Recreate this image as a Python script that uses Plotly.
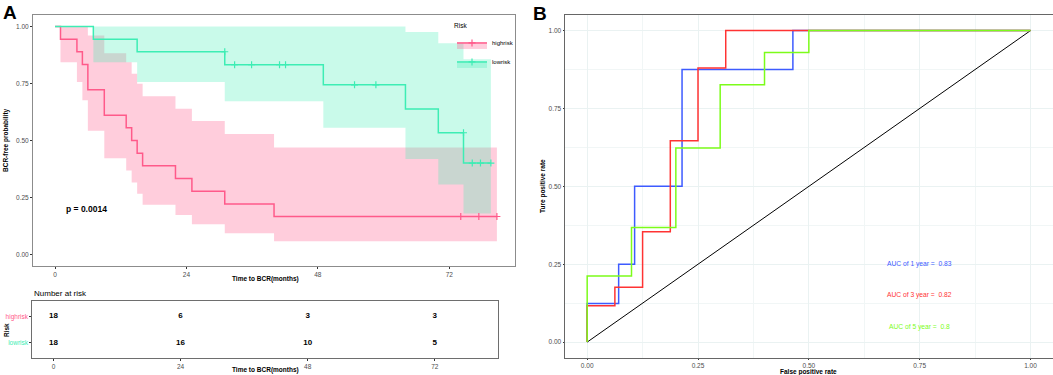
import numpy as np
import plotly.graph_objects as go

# ---------------- data ----------------
# Kaplan-Meier, high risk group
hr_time = [0, 1, 4, 5, 6, 9, 13, 14, 15, 16, 22, 25, 31, 40, 80.7]
hr_surv = [1.0, 0.944, 0.889, 0.833, 0.722, 0.611, 0.556, 0.5, 0.444, 0.389, 0.333, 0.278, 0.222, 0.167, 0.167]
hr_band_time = [1, 4, 5, 6, 9, 13, 14, 15, 16, 22, 25, 31, 40, 80.7]
hr_lower = [0.843, 0.756, 0.676, 0.543, 0.422, 0.368, 0.316, 0.267, 0.218, 0.174, 0.133, 0.094, 0.059, 0.059]
hr_upper = [1.0, 1.0, 1.0, 0.96, 0.882, 0.843, 0.793, 0.749, 0.694, 0.639, 0.585, 0.528, 0.469, 0.469]
hr_censor = [74.1, 77.4, 80.7]

# Kaplan-Meier, low risk group
lr_time = [0, 7, 15, 31, 49, 64, 70, 74.6, 79.6]
lr_surv = [1.0, 0.944, 0.889, 0.832, 0.744, 0.638, 0.534, 0.401, 0.401]
lr_band_time = [7, 15, 31, 49, 64, 70, 74.6, 79.6]
lr_lower = [0.843, 0.756, 0.672, 0.556, 0.419, 0.307, 0.18, 0.18]
lr_upper = [1.0, 1.0, 1.0, 1.0, 0.976, 0.926, 0.856, 0.856]
lr_censor = [31, 32.8, 35.9, 41, 42.1, 54.7, 58.6, 74.6, 76.2, 77.7, 79.6]

p_text = "p = 0.0014"

# Number at risk table
risk_times = [0, 24, 48, 72]
risk_groups = ["highrisk", "lowrisk"]
hr_risk = [18, 6, 3, 3]
lr_risk = [18, 16, 10, 5]

# ROC curves (fpr, tpr step points)
roc1_fpr = [0, 0, 0.071, 0.107, 0.214, 0.464, 1.0]
roc1_tpr = [0, 0.124, 0.25, 0.5, 0.875, 1.0, 1.0]
roc3_fpr = [0, 0, 0.0625, 0.125, 0.1875, 0.25, 0.3125, 1.0]
roc3_tpr = [0, 0.117, 0.176, 0.354, 0.646, 0.880, 1.0, 1.0]
roc5_fpr = [0, 0, 0.1, 0.2, 0.3, 0.4, 0.5, 1.0]
roc5_tpr = [0, 0.212, 0.368, 0.623, 0.826, 0.930, 1.0, 1.0]
auc_labels = ["AUC of 1 year =  0.83", "AUC of 3 year =  0.82", "AUC of 5 year =  0.8"]

km_ticks = [0, 24, 48, 72]
prob_ticks = [0, 0.25, 0.5, 0.75, 1.0]

# ---------------- styling ----------------
FONT = "Liberation Sans, Arial, sans-serif"
W, H = 1053, 375
HR_COL = "#FF5A8A"
LR_COL = "#3DEDB4"
HR_FILL = "rgba(255,90,138,0.30)"
LR_FILL = "rgba(61,237,180,0.28)"
ROC_COLS = ["#3D5BFF", "#FF3333", "#7CFC1A"]
TICKFONT = dict(family=FONT, size=6.5, color="#4D4D4D")


def fx(px):
    return px / W


def fy(py):
    return 1 - py / H


def value_before(times, surv, t):
    i = int(np.searchsorted(times, t, side="left")) - 1
    return surv[max(i, 0)]


fig = go.Figure()

# confidence bands
fig.add_trace(go.Scatter(x=hr_band_time, y=hr_lower, mode="lines", line=dict(width=0, shape="hv"),
                         showlegend=False, hoverinfo="skip", xaxis="x", yaxis="y"))
fig.add_trace(go.Scatter(x=hr_band_time, y=hr_upper, mode="lines", line=dict(width=0, shape="hv"),
                         fill="tonexty", fillcolor=HR_FILL, showlegend=False, hoverinfo="skip",
                         xaxis="x", yaxis="y"))
fig.add_trace(go.Scatter(x=lr_band_time, y=lr_lower, mode="lines", line=dict(width=0, shape="hv"),
                         showlegend=False, hoverinfo="skip", xaxis="x", yaxis="y"))
fig.add_trace(go.Scatter(x=lr_band_time, y=lr_upper, mode="lines", line=dict(width=0, shape="hv"),
                         fill="tonexty", fillcolor=LR_FILL, showlegend=False, hoverinfo="skip",
                         xaxis="x", yaxis="y"))

# survival curves
fig.add_trace(go.Scatter(x=hr_time, y=hr_surv, mode="lines", line=dict(color=HR_COL, width=1.5, shape="hv"),
                         showlegend=False, xaxis="x", yaxis="y"))
fig.add_trace(go.Scatter(x=lr_time, y=lr_surv, mode="lines", line=dict(color=LR_COL, width=1.5, shape="hv"),
                         showlegend=False, xaxis="x", yaxis="y"))

# censor marks
fig.add_trace(go.Scatter(x=hr_censor, y=[value_before(hr_time, hr_surv, c) for c in hr_censor],
                         mode="markers", marker=dict(symbol="cross-thin", size=5, line=dict(color=HR_COL, width=1.2)),
                         showlegend=False, xaxis="x", yaxis="y"))
fig.add_trace(go.Scatter(x=lr_censor, y=[value_before(lr_time, lr_surv, c) for c in lr_censor],
                         mode="markers", marker=dict(symbol="cross-thin", size=5, line=dict(color=LR_COL, width=1.2)),
                         showlegend=False, xaxis="x", yaxis="y"))

# legend entries
for name, col, fillc in [("highrisk", HR_COL, HR_FILL), ("lowrisk", LR_COL, LR_FILL)]:
    fig.add_trace(go.Scatter(x=[None], y=[None], name=name, mode="lines+markers", fill="toself",
                             fillcolor=fillc, line=dict(color=col, width=1.5),
                             marker=dict(symbol="cross-thin", size=5, line=dict(color=col, width=1.2)),
                             xaxis="x", yaxis="y"))

# risk table numbers
fig.add_trace(go.Scatter(x=risk_times, y=[risk_groups[0]] * len(risk_times), text=hr_risk, mode="text",
                         texttemplate="<b>%{text}</b>", textfont=dict(family=FONT, size=8, color="black"),
                         showlegend=False, xaxis="x2", yaxis="y2"))
fig.add_trace(go.Scatter(x=risk_times, y=[risk_groups[1]] * len(risk_times), text=lr_risk, mode="text",
                         texttemplate="<b>%{text}</b>", textfont=dict(family=FONT, size=8, color="black"),
                         showlegend=False, xaxis="x2", yaxis="y2"))

# ROC
fig.add_trace(go.Scatter(x=[0, 1], y=[0, 1], mode="lines", line=dict(color="black", width=1),
                         showlegend=False, xaxis="x3", yaxis="y3"))
for fpr, tpr, col in [(roc1_fpr, roc1_tpr, ROC_COLS[0]), (roc3_fpr, roc3_tpr, ROC_COLS[1]),
                      (roc5_fpr, roc5_tpr, ROC_COLS[2])]:
    fig.add_trace(go.Scatter(x=fpr, y=tpr, mode="lines", line=dict(color=col, width=1.5, shape="hv"),
                             showlegend=False, xaxis="x3", yaxis="y3"))

axis_common = dict(ticks="outside", ticklen=2, tickwidth=1, tickcolor="#333333", tickfont=TICKFONT,
                   showline=True, mirror=True, linewidth=1, zeroline=False)

annotations = []


def ann(text, px, py, size, angle=0, xanchor="center", color="black", bold=True):
    annotations.append(dict(text=("<b>%s</b>" % text) if bold else text, x=fx(px), y=fy(py),
                            xref="paper", yref="paper", showarrow=False, textangle=angle,
                            xanchor=xanchor, yanchor="middle",
                            font=dict(family=FONT, size=size, color=color)))


ann("A", 10, 13, 19)
ann("B", 540, 14, 19)
ann("BCR-free probability", 6, 140, 6.5, angle=-90)
ann("Time to BCR(months)", 265, 279, 6.5)
ann("Number at risk", 32, 293, 8, xanchor="left", bold=False)
ann("Risk", 6, 330, 6.5, angle=-90)
ann("Time to BCR(months)", 265, 370, 6.5)
ann("Ture positive rate", 543, 186, 6.5, angle=-90)
ann("False positive rate", 808, 371.5, 6.5)

annotations.append(dict(text="<b>%s</b>" % p_text, x=1.6, y=0.2, xref="x", yref="y", showarrow=False,
                        xanchor="left", yanchor="middle", font=dict(family=FONT, size=8.5, color="black")))
for lab, yv, col in zip(auc_labels, [0.25, 0.15, 0.05], ROC_COLS):
    annotations.append(dict(text=lab, x=0.75, y=yv, xref="x3", yref="y3", showarrow=False,
                            xanchor="center", yanchor="middle", font=dict(family=FONT, size=6.7, color=col)))

roc_axis = dict(axis_common)
roc_axis["ticklen"] = 1.5

fig.update_layout(
    width=W, height=H, margin=dict(l=0, r=0, t=0, b=0),
    paper_bgcolor="white", plot_bgcolor="white",
    font=dict(family=FONT),
    xaxis=dict(domain=[fx(33), fx(515.3)], range=[-4.02, 84.06], tickvals=km_ticks, showgrid=False,
               linecolor="#8C8C8C", anchor="y", **axis_common),
    yaxis=dict(domain=[fy(266), fy(15)], range=[-0.05, 1.05], tickvals=prob_ticks, tickformat=".2f",
               showgrid=False, linecolor="#8C8C8C", anchor="x", **axis_common),
    xaxis2=dict(domain=[fx(32.3), fx(498.3)], range=[-4.0, 84.0], tickvals=km_ticks, showgrid=False,
                linecolor="#6E6E6E", anchor="y2", **axis_common),
    yaxis2=dict(domain=[fy(358.3), fy(300.7)], type="category", categoryorder="array",
                categoryarray=risk_groups[::-1], range=[-0.6, 1.6], showgrid=False,
                tickvals=risk_groups,
                ticktext=['<span style="color:%s">%s</span>' % (HR_COL, risk_groups[0]),
                          '<span style="color:%s">%s</span>' % (LR_COL, risk_groups[1])],
                linecolor="#6E6E6E", anchor="x2", **axis_common),
    xaxis3=dict(domain=[fx(565), fx(1052.7)], range=[-0.05, 1.05], tickvals=prob_ticks, tickformat=".2f",
                showgrid=True, gridcolor="#EAF2F2", gridwidth=1,
                minor=dict(dtick=0.125, tick0=0, showgrid=True, gridcolor="#F1F6F6", ticks=""),
                linecolor="#666666", anchor="y3", **roc_axis),
    yaxis3=dict(domain=[fy(357.7), fy(15)], range=[-0.05, 1.05], tickvals=prob_ticks, tickformat=".2f",
                showgrid=True, gridcolor="#EAF2F2", gridwidth=1,
                minor=dict(dtick=0.125, tick0=0, showgrid=True, gridcolor="#F1F6F6", ticks=""),
                linecolor="#666666", anchor="x3", **roc_axis),
    legend=dict(title=dict(text="Risk", font=dict(family=FONT, size=6.5, color="black")),
                font=dict(family=FONT, size=6, color="black"),
                x=fx(452), y=fy(20), xanchor="left", yanchor="top", bgcolor="rgba(0,0,0,0)",
                itemwidth=30, tracegroupgap=0, traceorder="normal"),
    annotations=annotations,
)

fig.write_html("out.html", config={"displayModeBar": False},
               post_script="document.body.style.margin='0';document.body.style.padding='0';"
                           "document.body.style.overflow='hidden';")
